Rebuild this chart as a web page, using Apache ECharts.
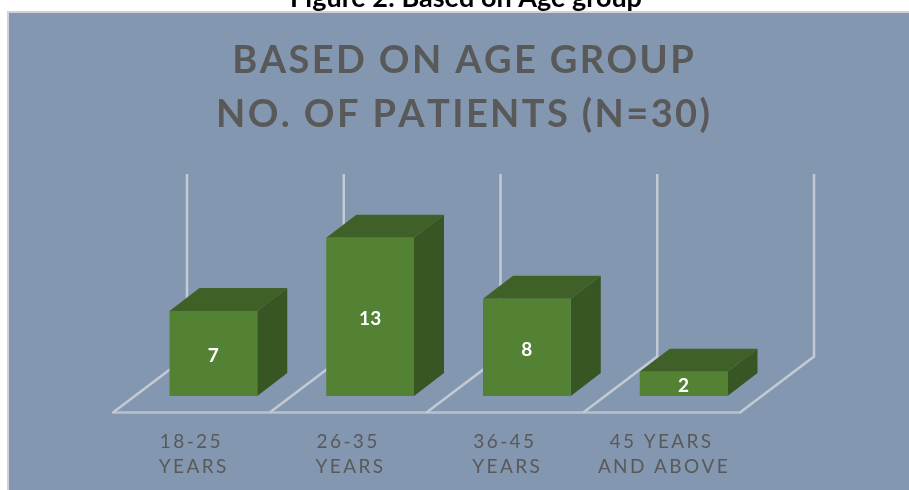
<!DOCTYPE html>
<html>
<head>
<meta charset="utf-8">
<style>
html,body{margin:0;padding:0;background:#fff;}
#main{width:909px;height:490px;}
</style>
<script src="https://cdn.jsdelivr.net/npm/echarts@6/dist/echarts.min.js"></script>
</head>
<body>
<div id="main"></div>
<script>
let categories = ["18-25\nYEARS","26-35\nYEARS","36-45\nYEARS","45 YEARS\nAND ABOVE"];
let patients = [7,13,8,2];
let titleLines = ["BASED ON AGE GROUP","NO. OF PATIENTS (N=30)"];
let caption = "Figure 2: Based on Age group";
let axisMax = 15;

/*3d look, px offsets from the front floor line*/
let floorDepth = [74,-56];
let barInset = [22,-16.5];
let barDepth = [30,-23];
let barRatio = 0.56;

function spaced(str,sep){
    return str.split("").join(sep);
}

/*slanted floor line + back wall line for each category*/
function renderWall(params,api){
    let i = api.value(0);
    let size = api.size([1,0])[0];
    let lines = [];
    let addWall = function(x){
        let floor = api.coord([0,0])[1];
        let top = api.coord([0,axisMax])[1];
        let bx = x + floorDepth[0], by = floor + floorDepth[1];
        lines.push({type:"polyline",shape:{points:[[x,floor],[bx,by],[bx,top+floorDepth[1]]]},
            style:{fill:"none",stroke:"#c3cad4",lineWidth:2.5}});
    };
    let left = api.coord([i,0])[0] - size/2;
    addWall(left);
    if(i === categories.length-1){
        addWall(left + size);
    }
    return {type:"group",children:lines};
}

function renderBar(params,api){
    let i = api.value(0);
    let size = api.size([1,0])[0];
    let w = size*barRatio;
    let base = api.coord([i,0]);
    let top = api.coord([i,api.value(1)]);
    let x0 = base[0] - w/2 + barInset[0];
    let x1 = x0 + w;
    let y0 = base[1] + barInset[1];
    let y1 = top[1] + barInset[1];
    let dx = barDepth[0], dy = barDepth[1];
    return {type:"group",children:[
        {type:"polygon",shape:{points:[[x1,y0],[x1+dx,y0+dy],[x1+dx,y1+dy],[x1,y1]]},
            style:{fill:"#375623"}},
        {type:"polygon",shape:{points:[[x0,y1],[x0+dx,y1+dy],[x1+dx,y1+dy],[x1,y1]]},
            style:{fill:"#3f6027"}},
        {type:"rect",shape:{x:x0,y:y1,width:w,height:y0-y1},
            style:{fill:"#548235"}},
        {type:"text",x:(x0+x1)/2,y:(y0+y1)/2+2,
            style:{text:String(api.value(1)),fill:"#fff",font:"bold 19px Lato",align:"center",verticalAlign:"middle"}}
    ]};
}

let chart = echarts.init(document.getElementById("main"));
let seriesData = categories.map((c,i)=>[i,patients[i]]);
chart.setOption({
    animation:false,
    backgroundColor:"#fff",
    graphic:[{
        type:"rect",z:-1,
        shape:{x:8,y:12,width:920,height:500},
        style:{fill:"#8497b0",stroke:"#d0d2d6",lineWidth:2}
    }],
    title:[
        {
            text:caption,left:461,top:-20.5,textAlign:"center",
            textStyle:{fontFamily:"Lato",fontSize:27,fontWeight:"bold",color:"#000"}
        },
        {
            text:titleLines.map(t=>spaced(t,"\u200a")).join("\n"),
            left:458,top:29,textAlign:"center",
            textStyle:{fontFamily:"Lato",fontSize:38,fontWeight:"bold",color:"#595959",lineHeight:54}
        }
    ],
    grid:{left:113,top:230,width:627,height:182.6},
    xAxis:{
        type:"category",
        data:categories,
        axisTick:{show:false},
        axisLine:{lineStyle:{color:"#b9c1cd",width:2.5}},
        axisLabel:{
            interval:0,
            margin:17,
            fontFamily:"Lato",
            fontSize:19,
            lineHeight:25,
            color:"#595959",
            formatter:v=>spaced(v,"\u2009")
        }
    },
    yAxis:{type:"value",min:0,max:axisMax,interval:5,show:false},
    series:[
        {type:"custom",renderItem:renderWall,data:seriesData,z:1,clip:false},
        {type:"custom",renderItem:renderBar,data:seriesData,z:2,clip:false}
    ]
});
</script>
</body>
</html>
